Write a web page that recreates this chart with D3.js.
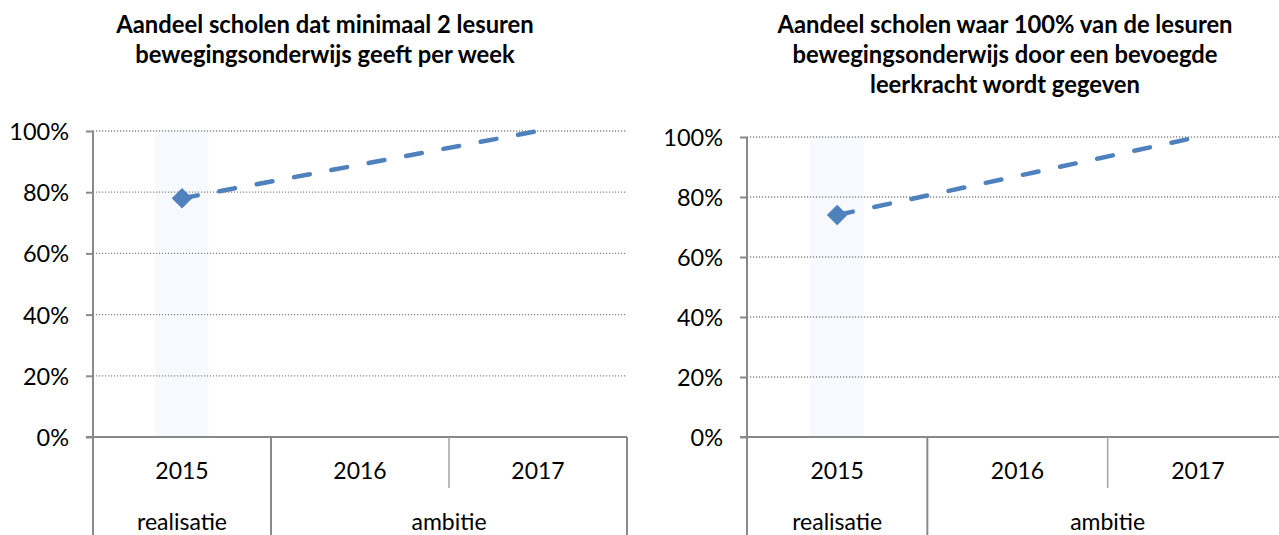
<!DOCTYPE html>
<html>
<head>
<meta charset="utf-8">
<script src="https://cdn.jsdelivr.net/npm/d3@7"></script>
<style>
    body { margin: 0; background: #fff; }
    svg text { font-family: Lato, "Open Sans", sans-serif; fill: #000; }
</style>
</head>
<body>
<div id="chart"></div>
<script>
var width = 1279;
var height = 535;

var years = ["2015", "2016", "2017"];
var groups = [
    { label: "realisatie", from: 0, to: 1 },
    { label: "ambitie", from: 1, to: 3 }
];
var yTicks = [0, 20, 40, 60, 80, 100];

var leftTitle = ["Aandeel scholen dat minimaal 2 lesuren", "bewegingsonderwijs geeft per week"];
var leftValues = [78, 89, 100];

var rightTitle = ["Aandeel scholen waar 100% van de lesuren", "bewegingsonderwijs door een bevoegde", "leerkracht wordt gegeven"];
var rightValues = [74, 87, 100];

var lineColor = "#4f81bd";
var axisColor = "#898989";

var svgElement;

function main() {
    svgElement = d3.select("#chart").append("svg")
        .attr("width", width)
        .attr("height", height);

    drawChart({ left: 93, right: 627, top: 131, bottom: 437, titleX: 325 }, leftTitle, leftValues);
    drawChart({ left: 747, right: 1288, top: 137, bottom: 437, titleX: 1005 }, rightTitle, rightValues);
}

function drawChart(box, title, values) {
    var g = svgElement.append("g");

    var x = d3.scaleBand().domain(years).range([box.left, box.right]);
    var y = d3.scaleLinear().domain([0, 100]).range([box.bottom, box.top]);

    // title
    g.selectAll(".title").data(title).enter().append("text")
        .attr("x", box.titleX)
        .attr("y", function (d, i) { return 33 + i * 30; })
        .attr("text-anchor", "middle")
        .style("font-weight", "bold")
        .style("font-size", "23.8px")
        .text(function (d) { return d; });

    // light band behind the realisatie year
    var bandW = x.bandwidth() * 0.3;
    g.append("rect")
        .attr("x", x(years[0]) + x.bandwidth() / 2 - bandW / 2)
        .attr("y", y(100))
        .attr("width", bandW)
        .attr("height", y(0) - y(100))
        .attr("fill", "#f7f9fe");

    // gridlines
    g.selectAll(".grid").data(yTicks.filter(function (d) { return d > 0; })).enter().append("line")
        .attr("x1", box.left)
        .attr("x2", box.right)
        .attr("y1", function (d) { return y(d); })
        .attr("y2", function (d) { return y(d); })
        .attr("stroke", "#858585")
        .attr("stroke-width", 1.3)
        .attr("stroke-dasharray", "1.2,1.8");

    // y axis
    var yAxis = d3.axisLeft(y)
        .tickValues(yTicks)
        .tickSize(7)
        .tickPadding(17)
        .tickFormat(function (d) { return d + "%"; });
    var ya = g.append("g")
        .attr("transform", "translate(" + box.left + ",0)")
        .call(yAxis);
    ya.select(".domain").remove();
    ya.selectAll(".tick line").attr("stroke", axisColor).attr("stroke-width", 2);
    ya.selectAll(".tick text")
        .style("font-size", "23.5px")
        .style("font-family", "Lato, sans-serif")
        .attr("fill", "#000")
        .attr("dy", "0.36em");

    // axis lines
    g.append("line")
        .attr("x1", box.left).attr("x2", box.left)
        .attr("y1", y(100)).attr("y2", height)
        .attr("stroke", axisColor).attr("stroke-width", 2);
    g.append("line")
        .attr("x1", box.left - 7).attr("x2", box.right)
        .attr("y1", y(0)).attr("y2", y(0))
        .attr("stroke", axisColor).attr("stroke-width", 2);

    // category dividers: group borders run to the bottom, the year border is short
    groups.forEach(function (gr) {
        var xe = gr.to < years.length ? x(years[gr.to]) : box.right;
        g.append("line")
            .attr("x1", xe).attr("x2", xe)
            .attr("y1", y(0)).attr("y2", height)
            .attr("stroke", axisColor).attr("stroke-width", 2);
        for (var i = gr.from + 1; i < gr.to; i++) {
            g.append("line")
                .attr("x1", x(years[i])).attr("x2", x(years[i]))
                .attr("y1", y(0)).attr("y2", y(0) + 51)
                .attr("stroke", "#a3a3a3").attr("stroke-width", 1.5);
        }
    });

    // year labels
    g.selectAll(".year").data(years).enter().append("text")
        .attr("x", function (d) { return x(d) + x.bandwidth() / 2; })
        .attr("y", 479)
        .attr("text-anchor", "middle")
        .style("font-size", "23px")
        .text(function (d) { return d; });

    // group labels
    g.selectAll(".group").data(groups).enter().append("text")
        .attr("x", function (d) {
            var a = x(years[d.from]);
            var b = d.to < years.length ? x(years[d.to]) : x(years[d.to - 1]) + x.bandwidth();
            return (a + b) / 2;
        })
        .attr("y", 530)
        .attr("text-anchor", "middle")
        .style("font-size", "23px")
        .text(function (d) { return d.label; });

    // dashed ambition line
    var line = d3.line()
        .x(function (d, i) { return x(years[i]) + x.bandwidth() / 2; })
        .y(function (d) { return y(d); });
    g.append("path")
        .datum(values)
        .attr("d", line)
        .attr("fill", "none")
        .attr("stroke", lineColor)
        .attr("stroke-width", 4.5)
        .attr("stroke-linecap", "round")
        .attr("stroke-dasharray", "16,22");

    // marker for the realised value
    g.append("path")
        .attr("d", d3.symbol().type(d3.symbolDiamond2).size(270))
        .attr("transform", "translate(" + (x(years[0]) + x.bandwidth() / 2) + "," + y(values[0]) + ")")
        .attr("fill", lineColor);
}

main();
</script>
</body>
</html>
